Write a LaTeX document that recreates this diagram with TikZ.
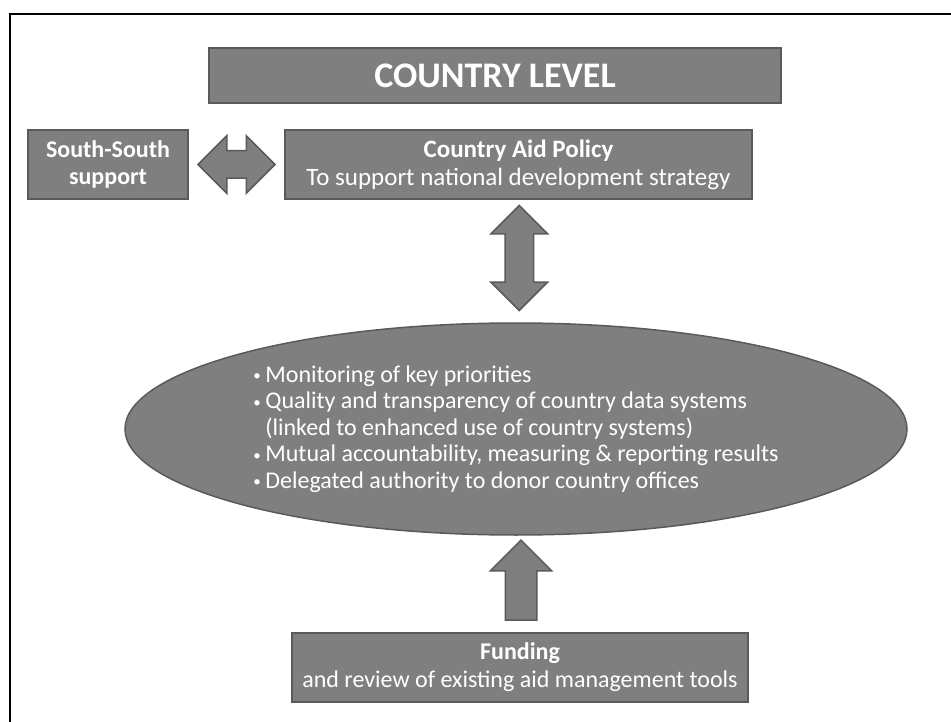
\documentclass[tikz,border=0pt]{standalone}
\usepackage{fontspec}
\setmainfont{Carlito}
\usetikzlibrary{calc, shapes.geometric, shapes.arrows}
\definecolor{boxgray}{HTML}{7F7F7F}
\definecolor{edgegray}{HTML}{5A5A5A}
\newcommand{\bul}{\makebox[12pt][l]{\fontsize{15}{15}\selectfont\raisebox{1.5pt}{\textbullet}}}

\begin{document}
\begin{tikzpicture}[x=1pt,y=-1pt,inner sep=0pt,
  box/.style={draw=edgegray,line width=1.5pt,fill=boxgray,text=white,align=center,font=\fontsize{25}{28}\selectfont},
  blk/.style={draw=edgegray,line width=1.5pt,fill=boxgray,minimum width=0pt,inner xsep=0pt}]
\useasboundingbox (0,0) rectangle (951,722);
\draw [line width=2.5pt] (10,722) -- (10,14) -- (951,14);
\draw node [box,minimum width=572,minimum height=55,font=\fontsize{36}{40}\selectfont\bfseries] (L) at (495,75.5) {COUNTRY LEVEL};
\draw node [box,minimum width=160,minimum height=69,font=\fontsize{24}{27}\selectfont\bfseries] (S) at (108,164.5) {South-South\\support};
\draw node [box,minimum width=467,minimum height=69] (P) at (518.5,164.5) {\textbf{Country Aid Policy}\\To support national development strategy};
\draw node [box,ellipse,minimum width=782,minimum height=212,align=left,font=\fontsize{24}{26.5}\selectfont] (E) at (516,429) {%
  \bul Monitoring of key priorities\\
  \bul Quality and transparency of country data systems\\
  \hspace*{12pt}(linked to enhanced use of country systems)\\
  \bul Mutual accountability, measuring \& reporting results\\
  \bul Delegated authority to donor country offices};
\draw node [box,minimum width=456,minimum height=69,font=\fontsize{24}{28}\selectfont] (F) at (520,667.5) {\textbf{Funding}\\and review of existing aid management tools};
% block arrows between the boxes
\draw node [blk,double arrow,minimum height=77,inner ysep=13pt,double arrow head extend=15pt] (A1) at ($ (S.east)!.5!(P.west) $) {};
\draw node [blk,double arrow,rotate=90,minimum height=105,inner ysep=13.5pt,double arrow head extend=14pt] (A2) at ($ (P.south)!.5!(E.north) + (2,-3) $) {};
\draw node [blk,single arrow,rotate=90,minimum height=80,inner ysep=15pt,single arrow head extend=15pt] (A3) at ($ (E.south)!.5!(F.north) + (3,4) $) {};
\end{tikzpicture}
\end{document}
